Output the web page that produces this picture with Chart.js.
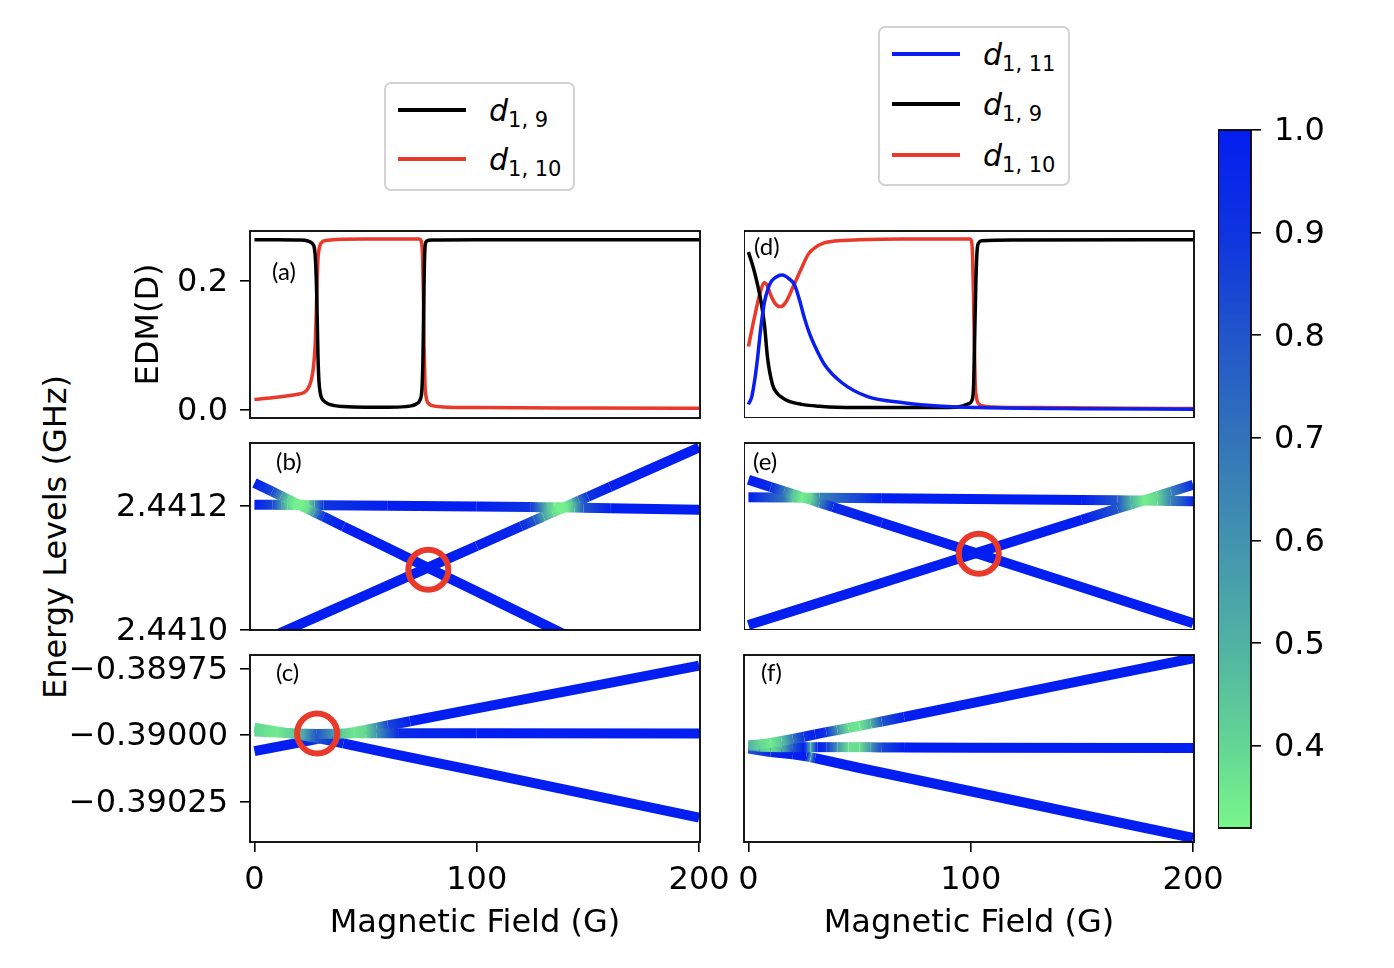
<!DOCTYPE html>
<html>
<head>
<meta charset="utf-8">
<script src="https://cdn.jsdelivr.net/npm/chart.js@4.4.1/dist/chart.umd.min.js"></script>
<style>
  body { margin: 0; background: #fff; }
  #fig { position: relative; width: 1394px; height: 968px; overflow: hidden; font-family: "DejaVu Sans"; }
  .panel { position: absolute; }
  .legend { position: absolute; box-sizing: border-box; border: 2px solid #d3d3d3; border-radius: 7px; background: #fff; }
  .key { position: absolute; left: 12px; width: 68px; height: 4px; }
  .lab { position: absolute; left: 103px; font-size: 30px; line-height: 36px; white-space: nowrap; color: #000; }
  .lab i { font-style: oblique; }
  .lab sub { font-size: 21px; vertical-align: -6px; line-height: 0; }
  #ylab { position: absolute; left: 55px; top: 537px; font-size: 32px; white-space: nowrap;
          transform: translate(-50%, -50%) rotate(-90deg); }
</style>
</head>
<body>
<div id="fig">
  <div class="legend" style="left:384px;top:82px;width:191px;height:109px">
    <div class="key" style="top:24px;background:#000"></div>
    <div class="lab" style="top:9px"><i>d</i><sub>1, 9</sub></div>
    <div class="key" style="top:73px;background:#e8392b"></div>
    <div class="lab" style="top:58px"><i>d</i><sub>1, 10</sub></div>
  </div>
  <div class="legend" style="left:878px;top:26px;width:192px;height:160px">
    <div class="key" style="top:24px;background:#0a1ef2"></div>
    <div class="lab" style="top:9px"><i>d</i><sub>1, 11</sub></div>
    <div class="key" style="top:74px;background:#000"></div>
    <div class="lab" style="top:59px"><i>d</i><sub>1, 9</sub></div>
    <div class="key" style="top:125px;background:#e8392b"></div>
    <div class="lab" style="top:110px"><i>d</i><sub>1, 10</sub></div>
  </div>
  <div id="ylab">Energy Levels (GHz)</div>
</div>
<script>
// ---------- ticks ----------
const xTickVals = [0, 100, 200];
const xTickLabels = ['0', '100', '200'];
const edmTickVals = [0.0, 0.2];
const edmTickLabels = ['0.0', '0.2'];
const upperTickVals = [2.4410, 2.4412];
const upperTickLabels = ['2.4410', '2.4412'];
const lowerTickVals = [-0.38975, -0.39000, -0.39025];
const lowerTickLabels = ['\u22120.38975', '\u22120.39000', '\u22120.39025'];
const cbTickVals = [0.4, 0.5, 0.6, 0.7, 0.8, 0.9, 1.0];
const cbTickLabels = ['0.4', '0.5', '0.6', '0.7', '0.8', '0.9', '1.0'];
const cbRange = [0.32, 1.0];

// ---------- panel (a): EDM ----------
const aX9 = [0, 10, 20, 24, 26, 27, 27.5, 28, 28.3, 28.6, 29, 29.5, 30, 31, 33, 36, 40, 50, 60, 68, 71, 73, 74.5, 75.3, 75.8, 76.1, 76.4, 76.8, 77.5, 80, 100, 150, 200];
const aD9 = [0.264, 0.264, 0.2635, 0.262, 0.258, 0.250, 0.230, 0.180, 0.130, 0.080, 0.045, 0.028, 0.020, 0.014, 0.009, 0.006, 0.0045, 0.0035, 0.0035, 0.0045, 0.006, 0.009, 0.015, 0.030, 0.080, 0.150, 0.220, 0.255, 0.262, 0.2635, 0.264, 0.264, 0.264];
const aX10 = [0, 10, 20, 22, 24, 25.5, 26.5, 27.3, 27.8, 28.2, 28.6, 29.2, 30, 32, 50, 74, 75, 75.6, 76, 76.3, 76.7, 77.3, 78.5, 80, 85, 100, 150, 200];
const aD10 = [0.0155, 0.019, 0.024, 0.026, 0.032, 0.045, 0.065, 0.100, 0.150, 0.200, 0.235, 0.252, 0.259, 0.263, 0.265, 0.265, 0.262, 0.240, 0.180, 0.100, 0.040, 0.018, 0.009, 0.006, 0.004, 0.003, 0.0022, 0.0018];

// ---------- panel (d): EDM ----------
const dX11 = [0, 1.5, 3, 4.1, 5.5, 7.2, 9, 10.4, 13, 15.3, 18, 20.7, 23, 25.2, 27.5, 29.7, 34.2, 41.9, 53.6, 68.9, 86.9, 104, 150, 200];
const dD11 = [0.008, 0.020, 0.050, 0.080, 0.125, 0.167, 0.190, 0.200, 0.207, 0.209, 0.204, 0.194, 0.170, 0.142, 0.118, 0.100, 0.070, 0.042, 0.020, 0.011, 0.005, 0.003, 0.0012, 0.0005];
const dX9 = [0, 2.7, 5.7, 7.2, 8.6, 10.8, 13, 15, 18, 24, 32, 40, 60, 90, 96, 99, 100.5, 101.3, 101.8, 102.3, 102.8, 103.5, 105, 120, 200];
const dD9 = [0.245, 0.214, 0.167, 0.132, 0.080, 0.039, 0.025, 0.019, 0.013, 0.008, 0.005, 0.0035, 0.003, 0.003, 0.005, 0.009, 0.014, 0.040, 0.120, 0.200, 0.245, 0.259, 0.2625, 0.2635, 0.264];
const dX10 = [0, 2.5, 5, 7.2, 8.5, 10, 12, 14, 15.3, 17, 20, 23.9, 27, 29.7, 34, 38.7, 50, 70, 99.5, 100.3, 100.8, 101.2, 101.6, 102, 102.6, 103.5, 105, 110, 130, 170, 200];
const dD10 = [0.098, 0.140, 0.178, 0.197, 0.192, 0.178, 0.165, 0.160, 0.161, 0.168, 0.190, 0.220, 0.242, 0.251, 0.259, 0.262, 0.264, 0.265, 0.265, 0.262, 0.240, 0.180, 0.100, 0.040, 0.018, 0.009, 0.006, 0.004, 0.003, 0.002, 0.0015];

// ---------- panel (b): upper levels ----------
const bXA = [0, 8, 12, 15, 18, 21, 24, 27, 31, 40, 60, 78, 100, 120, 140];
const bEA = [2.4412360, 2.4412221, 2.4412151, 2.4412098, 2.4412046, 2.4411994, 2.4411941, 2.4411889, 2.4411819, 2.4411662, 2.4411314, 2.4411000, 2.4410616, 2.4410267, 2.4409918];
const bCA = [1, 0.85, 0.6, 0.42, 0.34, 0.33, 0.38, 0.6, 0.9, 1, 1, 1, 1, 1, 1];
const bXB = [0, 8, 12, 15, 18, 21, 24, 27, 31, 60, 100, 124, 128, 132, 135, 138, 141, 144, 148, 160, 200];
const bEB = [2.4412010, 2.4412008, 2.4412007, 2.4412006, 2.4412005, 2.4412004, 2.4412003, 2.4412003, 2.4412002, 2.4411995, 2.4411980, 2.4411972, 2.4411971, 2.4411970, 2.4411969, 2.4411968, 2.4411966, 2.4411964, 2.4411960, 2.4411952, 2.4411930];
const bCB = [1, 0.85, 0.6, 0.42, 0.34, 0.33, 0.38, 0.6, 0.9, 1, 1, 0.9, 0.7, 0.45, 0.35, 0.33, 0.36, 0.5, 0.8, 1, 1];
const bXC = [0, 30, 50, 78, 100, 120, 126, 130, 134, 137, 140, 143, 146, 150, 160, 180, 200];
const bEC = [2.4409768, 2.4410242, 2.4410558, 2.4411000, 2.4411348, 2.4411664, 2.4411759, 2.4411822, 2.4411885, 2.4411932, 2.4411980, 2.4412027, 2.4412075, 2.4412138, 2.4412296, 2.4412612, 2.4412928];
const bCC = [1, 1, 1, 1, 1, 0.95, 0.8, 0.55, 0.4, 0.34, 0.35, 0.45, 0.7, 0.9, 1, 1, 1];
const bMarkX = [78.2];
const bMarkE = [2.4410965];

// ---------- panel (e): upper levels ----------
const eXA = [0, 10, 16, 20, 24, 28, 32, 38, 60, 103.6, 150, 200];
const eEA = [2.4412410, 2.4412295, 2.4412226, 2.4412180, 2.4412134, 2.4412088, 2.4412042, 2.4411973, 2.4411720, 2.4411219, 2.4410685, 2.4410110];
const eCA = [1, 0.95, 0.7, 0.45, 0.34, 0.4, 0.65, 0.95, 1, 1, 1, 1];
const eXB = [0, 16, 20, 24, 28, 32, 60, 100, 150, 166, 172, 178, 184, 190, 200];
const eEB = [2.4412128, 2.4412125, 2.4412124, 2.4412123, 2.4412122, 2.4412120, 2.4412112, 2.4412100, 2.4412085, 2.4412080, 2.4412078, 2.4412076, 2.4412073, 2.4412070, 2.4412064];
const eCB = [1, 0.7, 0.45, 0.34, 0.4, 0.65, 1, 1, 1, 0.8, 0.5, 0.34, 0.4, 0.65, 0.95];
const eXC = [0, 50, 103.6, 150, 166, 172, 178, 184, 190, 200];
const eEC = [2.4410080, 2.4410643, 2.4411246, 2.4411768, 2.4411948, 2.4412015, 2.4412083, 2.4412150, 2.4412218, 2.4412330];
const eCC = [1, 1, 1, 1, 0.8, 0.5, 0.34, 0.4, 0.65, 0.95];
const eMarkX = [103.6];
const eMarkE = [2.4411225];

// ---------- panel (c): lower levels ----------
const cXF = [0, 10, 20, 28, 35, 40, 45, 50, 55, 65, 100, 200];
const cEF = [-0.389986, -0.389990, -0.389994, -0.389996, -0.389995, -0.389994, -0.389993, -0.389993, -0.389993, -0.389993, -0.389993, -0.389994];
const cCF = [0.4, 0.35, 0.45, 0.8, 0.6, 0.42, 0.36, 0.4, 0.6, 0.95, 1, 1];
const cXD = [0, 10, 20, 28, 40, 60, 100, 150, 200];
const cED = [-0.389972, -0.389986, -0.389999, -0.390010, -0.390031, -0.390066, -0.390135, -0.390222, -0.390309];
const cCD = [0.4, 0.35, 0.45, 0.8, 1, 1, 1, 1, 1];
const cXA = [0, 20, 28, 35, 40, 45, 50, 55, 60, 70, 100, 150, 200];
const cEA = [-0.390060, -0.390028, -0.390015, -0.390004, -0.389996, -0.389988, -0.389980, -0.389972, -0.389964, -0.389948, -0.389900, -0.389820, -0.389740];
const cCA = [1, 1, 0.9, 0.6, 0.4, 0.35, 0.4, 0.6, 0.85, 1, 1, 1, 1];
const cMarkX = [28.2];
const cMarkE = [-0.3899937];

// ---------- panel (f): lower levels ----------
const fXU = [0, 5, 10, 15, 20, 25, 30, 35, 40, 45, 50, 55, 60, 70, 100, 150, 200];
const fEU = [-0.390038, -0.390035, -0.390029, -0.390022, -0.390014, -0.390006, -0.389997, -0.389989, -0.389981, -0.389973, -0.389965, -0.389957, -0.389949, -0.389932, -0.389881, -0.389796, -0.389712];
const fCU = [0.5, 0.4, 0.35, 0.45, 0.7, 0.9, 1, 0.9, 0.6, 0.38, 0.36, 0.5, 0.8, 1, 1, 1, 1];
const fXM = [0, 5, 10, 15, 20, 25, 28, 31, 35, 40, 45, 50, 55, 60, 70, 100, 200];
const fEM = [-0.390040, -0.390043, -0.390044, -0.390045, -0.390045, -0.390045, -0.390045, -0.390045, -0.390045, -0.390045, -0.390045, -0.390045, -0.390045, -0.390046, -0.390046, -0.390047, -0.390048];
const fCM = [0.7, 0.45, 0.38, 0.5, 0.8, 1, 0.5, 1, 0.9, 0.6, 0.38, 0.38, 0.6, 0.85, 1, 1, 1];
const fXL = [0, 10, 20, 26, 28, 30, 50, 100, 150, 200];
const fEL = [-0.390050, -0.390063, -0.390072, -0.390079, -0.390083, -0.390086, -0.390123, -0.390210, -0.390298, -0.390385];
const fCL = [0.8, 0.95, 1, 1, 0.55, 1, 1, 1, 1, 1];

// ---------- colour map (light green -> blue) ----------
const cmapStops = [[0.32, [120, 246, 139]], [0.4, [100, 214, 148]], [0.5, [80, 178, 163]], [0.6, [66, 147, 175]],
                   [0.7, [50, 116, 186]], [0.8, [33, 85, 202]], [0.9, [14, 52, 224]], [1.0, [3, 30, 240]]];
function cmap(v) {
  v = Math.max(cmapStops[0][0], Math.min(1, v));
  for (let i = 1; i < cmapStops.length; i++) {
    const [v1, c1] = cmapStops[i];
    if (v <= v1) {
      const [v0, c0] = cmapStops[i - 1];
      const t = (v - v0) / (v1 - v0);
      return 'rgb(' + c0.map((c, k) => Math.round(c + (c1[k] - c) * t)).join(',') + ')';
    }
  }
  return 'rgb(3,30,240)';
}

Chart.defaults.font.family = "'DejaVu Sans'";
Chart.defaults.font.size = 32;
Chart.defaults.color = '#000';
Chart.defaults.elements.point.radius = 0;

const pts = (xs, ys) => xs.map((x, i) => ({ x: x, y: ys[i] }));

function segColor(cs) {
  return ctx => {
    const c0 = cs[ctx.p0DataIndex], c1 = cs[ctx.p1DataIndex];
    if (c0 === c1) return cmap(c0);
    const ok = [ctx.p0.x, ctx.p0.y, ctx.p1.x, ctx.p1.y].every(Number.isFinite);
    if (!ok) return cmap((c0 + c1) / 2);
    const g = ctx.chart.ctx.createLinearGradient(ctx.p0.x, ctx.p0.y, ctx.p1.x, ctx.p1.y);
    g.addColorStop(0, cmap(c0));
    g.addColorStop(1, cmap(c1));
    return g;
  };
}
function level(xs, es, cs) {
  return { data: pts(xs, es), borderWidth: 10, borderColor: cmap(1), borderCapStyle: 'butt',
           borderJoinStyle: 'round', tension: 0, clip: 0, order: 1, segment: { borderColor: segColor(cs) } };
}
function edm(xs, ds, color) {
  return { data: pts(xs, ds), borderColor: color, borderWidth: 3.5, cubicInterpolationMode: 'monotone', order: 1 };
}
function mark(xs, es) {
  return { data: pts(xs, es), showLine: false, pointRadius: 20, pointBorderWidth: 6,
           pointBorderColor: '#e8392b', pointBackgroundColor: 'rgba(0,0,0,0)', clip: false, order: 0 };
}

// frame around the axes + panel letter
const framePlugin = {
  id: 'frame',
  afterDatasetsDraw(chart, args, o) {
    const a = chart.chartArea, c = chart.ctx;
    c.save();
    c.strokeStyle = '#000';
    c.lineWidth = 1.8;
    c.strokeRect(a.left, a.top, a.right - a.left, a.bottom - a.top);
    if (o.text) {
      c.fillStyle = '#000';
      c.font = '24px Lato';
      c.textBaseline = 'middle';
      c.fillText(o.text, a.left + o.dx, a.top + o.dy);
    }
    c.restore();
  }
};

const tickGrid = { display: true, drawOnChartArea: false, drawTicks: true, tickLength: 10, color: '#000', lineWidth: 1.6 };

function addPanel(sp) {
  const [x, y, w, h] = sp.area;
  const [pl, pt, pr, pb] = sp.pad;
  const div = document.createElement('div');
  div.className = 'panel';
  div.style.left = (x - pl) + 'px';
  div.style.top = (y - pt) + 'px';
  div.style.width = (w + pl + pr) + 'px';
  div.style.height = (h + pt + pb) + 'px';
  const cv = document.createElement('canvas');
  div.appendChild(cv);
  document.getElementById('fig').appendChild(div);

  const xScale = { type: 'linear', min: -2, max: 200.4, display: sp.showX };
  if (sp.showX) Object.assign(xScale, {
    afterBuildTicks: s => { s.ticks = xTickVals.map(v => ({ value: v })); },
    afterFit: s => { s.height = pb; s.paddingLeft = 0; s.paddingRight = 0; },
    ticks: { padding: 9, callback: (v, i) => xTickLabels[i] },
    grid: tickGrid, border: { display: false },
    title: { display: true, text: 'Magnetic Field (G)', font: { size: 32 }, padding: { top: 0, bottom: 0 } }
  });
  const yScale = { type: 'linear', min: sp.yRange[0], max: sp.yRange[1], display: !!sp.yTicks };
  if (sp.yTicks) Object.assign(yScale, {
    afterBuildTicks: s => { s.ticks = sp.yTicks.map(v => ({ value: v })); },
    afterFit: s => { s.width = pl; s.paddingTop = 0; s.paddingBottom = 0; },
    ticks: { padding: 12, labelOffset: 2, callback: (v, i) => sp.yLabels[i] },
    grid: tickGrid, border: { display: false },
    title: sp.yTitle ? { display: true, text: sp.yTitle, font: { size: 32 }, padding: { top: 10, bottom: 0 } } : { display: false }
  });

  new Chart(cv, {
    type: 'line',
    data: { datasets: sp.datasets },
    options: {
      responsive: true, maintainAspectRatio: false, animation: false,
      layout: { autoPadding: false, padding: { left: sp.yTicks ? 0 : pl, top: pt, right: pr, bottom: sp.showX ? 0 : pb } },
      plugins: { legend: { display: false }, tooltip: { enabled: false }, frame: sp.label },
      scales: { x: xScale, y: yScale }
    },
    plugins: [framePlugin]
  });
}

const edmRange = [-0.0132, 0.2776];
const upperRange = [2.4410, 2.4413];
const lowerRange = [-0.3904, -0.3897];

addPanel({ area: [250, 231, 450, 187], pad: [130, 10, 10, 10], yRange: edmRange, yTicks: edmTickVals, yLabels: edmTickLabels,
  yTitle: 'EDM(D)', showX: false, label: { text: '(a)', dx: 22, dy: 41 },
  datasets: [edm(aX9, aD9, '#000'), edm(aX10, aD10, '#e8392b')] });
addPanel({ area: [250, 443, 450, 187], pad: [140, 10, 10, 22], yRange: upperRange, yTicks: upperTickVals, yLabels: upperTickLabels,
  showX: false, label: { text: '(b)', dx: 26, dy: 19 },
  datasets: [mark(bMarkX, bMarkE), level(bXA, bEA, bCA), level(bXB, bEB, bCB), level(bXC, bEC, bCC)] });
addPanel({ area: [250, 655, 450, 187], pad: [190, 10, 40, 101], yRange: lowerRange, yTicks: lowerTickVals, yLabels: lowerTickLabels,
  showX: true, label: { text: '(c)', dx: 26, dy: 18 },
  datasets: [mark(cMarkX, cMarkE), level(cXF, cEF, cCF), level(cXD, cED, cCD), level(cXA, cEA, cCA)] });

addPanel({ area: [744, 231, 450, 187], pad: [0, 10, 10, 0], yRange: edmRange, showX: false, label: { text: '(d)', dx: 10, dy: 16 },
  datasets: [edm(dX11, dD11, '#0a1ef2'), edm(dX9, dD9, '#000'), edm(dX10, dD10, '#e8392b')] });
addPanel({ area: [744, 443, 450, 187], pad: [0, 10, 10, 0], yRange: upperRange, showX: false, label: { text: '(e)', dx: 9, dy: 19 },
  datasets: [mark(eMarkX, eMarkE), level(eXA, eEA, eCA), level(eXB, eEB, eCB), level(eXC, eEC, eCC)] });
addPanel({ area: [744, 655, 450, 187], pad: [20, 10, 40, 101], yRange: lowerRange, showX: true, label: { text: '(f)', dx: 17, dy: 18 },
  datasets: [level(fXU, fEU, fCU), level(fXM, fEM, fCM), level(fXL, fEL, fCL)] });

// ---------- colour bar ----------
(function () {
  const area = [1218, 130, 33, 698];
  const pad = [0, 20, 110, 10];
  const div = document.createElement('div');
  div.className = 'panel';
  div.style.left = (area[0] - pad[0]) + 'px';
  div.style.top = (area[1] - pad[1]) + 'px';
  div.style.width = (area[2] + pad[0] + pad[2]) + 'px';
  div.style.height = (area[3] + pad[1] + pad[3]) + 'px';
  const cv = document.createElement('canvas');
  div.appendChild(cv);
  document.getElementById('fig').appendChild(div);

  new Chart(cv, {
    type: 'bar',
    data: {
      labels: ['colour'],
      datasets: [{
        data: [cbRange],
        barPercentage: 1, categoryPercentage: 1, borderWidth: 0,
        backgroundColor: ctx => {
          const ys = ctx.chart.scales.y;
          if (!ys || !ctx.chart.chartArea) return cmap(1);
          const y0 = ys.getPixelForValue(cbRange[0]), y1 = ys.getPixelForValue(cbRange[1]);
          if (!Number.isFinite(y0) || !Number.isFinite(y1)) return cmap(1);
          const g = ctx.chart.ctx.createLinearGradient(0, y0, 0, y1);
          cmapStops.forEach(([v]) => g.addColorStop((v - cbRange[0]) / (cbRange[1] - cbRange[0]), cmap(v)));
          return g;
        }
      }]
    },
    options: {
      responsive: true, maintainAspectRatio: false, animation: false,
      layout: { padding: { left: 0, top: pad[1], right: 0, bottom: pad[3] } },
      plugins: { legend: { display: false }, tooltip: { enabled: false }, frame: {} },
      scales: {
        x: { display: false },
        y: {
          position: 'right', min: cbRange[0], max: cbRange[1],
          afterBuildTicks: s => { s.ticks = cbTickVals.map(v => ({ value: v })); },
          afterFit: s => { s.width = pad[2]; s.paddingTop = 0; s.paddingBottom = 0; },
          ticks: { padding: 13, labelOffset: 2, callback: (v, i) => cbTickLabels[i] },
          grid: tickGrid, border: { display: false }
        }
      }
    },
    plugins: [framePlugin]
  });
})();
</script>
</body>
</html>
